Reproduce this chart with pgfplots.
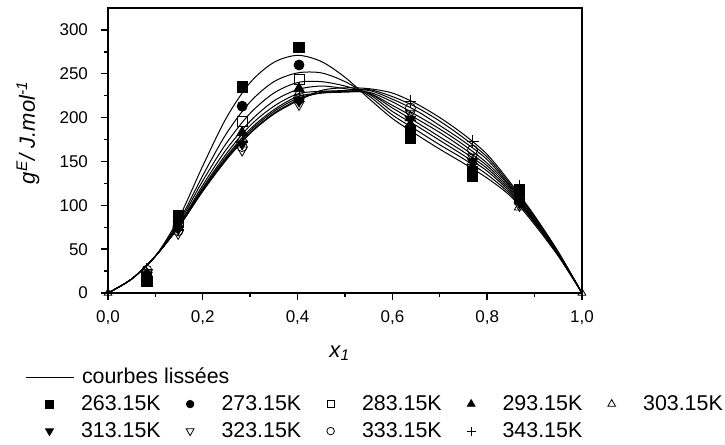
\documentclass[border=0pt]{standalone}
\usepackage{fontspec}
\setmainfont{Liberation Sans}
\usepackage{pgfplots}
\pgfplotsset{compat=1.18}
\usepackage{pgfplotstable}

\pgfplotstableread{
x    c1  c2  c3  c4  c5  c6  c7  c8  c9
0    0   0   0   0   0   0   0   0   0
0.05 16  16  16  16  16  16  16  16  16
0.1  42  42  42  42  42  42  42  42  42
0.15 86  82  80  78  77  77  76  76  76
0.2  145 134 128 123 120 119 117 117 116
0.25 200 182 171 164 159 156 154 153 152
0.3  240 218 205 196 191 187 185 183 182
0.35 263 241 228 219 213 209 207 205 204
0.4  271 251 240 232 227 224 222 220 219
0.45 264 251 241 236 230 228 228 229 231
0.5  246 241 236 233 230 229 230 231 234
0.55 222 225 227 228 228 229 231 232 233
0.6  199 203 207 211 214 218 221 224 228
0.65 181 186 191 195 199 203 208 212 216
0.7  164 169 174 178 183 187 191 196 200
0.75 148 153 157 161 165 169 173 177 181
0.8  131 135 139 142 145 148 152 155 158
0.85 110 112 114 116 118 120 121 123 125
0.9  78  80  81  82  83  84  86  87  88
0.95 42  43  43  44  45  45  46  46  47
1    0   0   0   0   0   0   0   0   0
}\curves

\pgfplotstableread{
x     s1  s2  s3  s4  s5  s6  s7  s8  s9
0.082 13  20  18  20  22  20  22  26  27
0.148 88  82  80  78  75  73  68  71  72
0.283 235 213 196 183 176 170 163 167 172
0.403 280 260 244 233 228 219 215 221 223
0.638 177 187 185 192 200 198 205 211 219
0.769 133 137 139 144 150 150 155 163 173
0.868 118 112 110 105 98  103 100 110 122
}\pts

\pgfplotstableread{
x    y
0    0
1    0
}\ends

\pgfplotsset{lineleg/.style={legend image code/.code={\draw[black, line width=0.5pt] (-12pt,3pt) -- (12pt,3pt);}}}

\begin{document}
\begin{tikzpicture}
\begin{axis}[
  at={(0pt,0pt)}, anchor=south west,
  scale only axis, width=237pt, height=142.5pt,
  xmin=0, xmax=1, ymin=0, ymax=325,
  xtick={0,0.2,0.4,0.6,0.8,1}, ytick={0,50,100,150,200,250,300},
  minor x tick num=1, minor y tick num=1,
  tick align=outside, tick pos=left,
  major tick length=3.5pt, minor tick length=2pt,
  axis line style={line width=0.7pt},
  every tick/.style={line width=0.7pt, black},
  /pgf/number format/assume math mode=true,
  tick label style={font=\fontsize{8.5}{10}\selectfont},
  xticklabel style={yshift=-2pt, /pgf/number format/.cd, fixed, fixed zerofill, precision=1, use comma},
  yticklabel style={xshift=-3pt},
  label style={font=\fontsize{11}{13}\selectfont},
  xlabel={\textit{x\textsubscript{1}}},
  xlabel style={at={(axis description cs:0.489,-0.225)}, anchor=base},
  ylabel={\textit{g\textsuperscript{E}/ J.mol\textsuperscript{-1}}},
  ylabel style={at={(axis description cs:-0.1688,0.563)}, anchor=center},
  legend columns=5,
  legend cell align=left,
  legend image code/.code={\path (-12pt,3pt) (12pt,3pt); \draw[#1, every mark/.append style={scale=0.75}] plot coordinates {(0pt,3pt)};},
  legend style={at={(axis description cs:-0.1751,-0.26)}, anchor=north west,
    draw=none, fill=none, inner sep=0pt, outer sep=0pt, row sep=3pt,
    font=\fontsize{10.7}{13}\selectfont\rule[-2.5pt]{0pt}{10.5pt},
    nodes={inner sep=0pt, text height=8pt, text depth=2.5pt, anchor=base west},
    /tikz/every odd column/.append style={column sep=3.5pt},
    /tikz/every even column/.append style={column sep=2.5pt}},
]
\addplot[black, line width=0.5pt, smooth, forget plot] table[x=x,y=c1]{\curves};
\addplot[black, line width=0.5pt, smooth, forget plot] table[x=x,y=c2]{\curves};
\addplot[black, line width=0.5pt, smooth, forget plot] table[x=x,y=c3]{\curves};
\addplot[black, line width=0.5pt, smooth, forget plot] table[x=x,y=c4]{\curves};
\addplot[black, line width=0.5pt, smooth, forget plot] table[x=x,y=c5]{\curves};
\addplot[black, line width=0.5pt, smooth, forget plot] table[x=x,y=c6]{\curves};
\addplot[black, line width=0.5pt, smooth, forget plot] table[x=x,y=c7]{\curves};
\addplot[black, line width=0.5pt, smooth, forget plot] table[x=x,y=c8]{\curves};
\addplot[black, line width=0.5pt, smooth, forget plot] table[x=x,y=c9]{\curves};
\addplot[only marks, black, mark=triangle, mark size=2.2pt, forget plot] table[x=x,y=y]{\ends};

\addlegendimage{lineleg}
\addlegendentry{\rlap{courbes lissées}}
\addlegendimage{empty legend}\addlegendentry{}
\addlegendimage{empty legend}\addlegendentry{}
\addlegendimage{empty legend}\addlegendentry{}
\addlegendimage{empty legend}\addlegendentry{}

\addplot[only marks, black, mark=square*, mark size=2.6pt] table[x=x,y=s1]{\pts};
\addlegendentry{263.15K}
\addplot[only marks, black, mark=*, mark size=2.5pt] table[x=x,y=s2]{\pts};
\addlegendentry{273.15K}
\addplot[only marks, black, mark=square, mark size=2.5pt] table[x=x,y=s3]{\pts};
\addlegendentry{283.15K}
\addplot[only marks, black, mark=triangle*, mark size=3pt] table[x=x,y=s4]{\pts};
\addlegendentry{293.15K}
\addplot[only marks, black, mark=triangle, mark size=3pt] table[x=x,y=s5]{\pts};
\addlegendentry{303.15K}
\addplot[only marks, black, mark=triangle*, mark size=3pt, mark options={rotate=180}] table[x=x,y=s6]{\pts};
\addlegendentry{313.15K}
\addplot[only marks, black, mark=triangle, mark size=3pt, mark options={rotate=180}] table[x=x,y=s7]{\pts};
\addlegendentry{323.15K}
\addplot[only marks, black, mark=o, mark size=2.5pt] table[x=x,y=s8]{\pts};
\addlegendentry{333.15K}
\addplot[only marks, black, mark=+, mark size=3pt] table[x=x,y=s9]{\pts};
\addlegendentry{343.15K}
\end{axis}
\pgfresetboundingbox
\path (-54pt,-76pt) rectangle (308.5pt,146.5pt);
\end{tikzpicture}
\end{document}
